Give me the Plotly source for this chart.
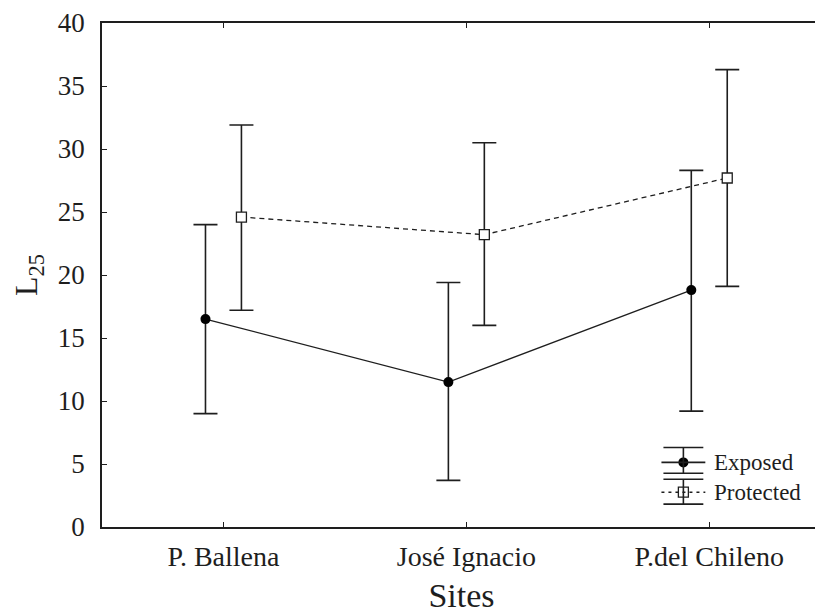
import plotly.graph_objects as go

sites = ["P. Ballena", "José Ignacio", "P.del Chileno"]
exposed_mean = [16.5, 11.5, 18.8]
exposed_upper = [24.0, 19.4, 28.3]
exposed_lower = [9.0, 3.7, 9.2]
protected_mean = [24.6, 23.2, 27.7]
protected_upper = [31.9, 30.5, 36.3]
protected_lower = [17.2, 16.0, 19.1]
y_ticks = [0, 5, 10, 15, 20, 25, 30, 35, 40]

pos = [i + 1 for i in range(len(sites))]
off = 0.074
ink = "#1e1e1e"
font = "Liberation Serif"

# page body has an 8px margin: figure is drawn from (8,8)
W, H = 815, 608
L, R, T, B = 94, 815, 12, 519

fig = go.Figure()
fig.add_trace(go.Scatter(
    x=[p - off for p in pos], y=exposed_mean, mode="lines+markers", name="Exposed",
    line=dict(color=ink, width=1.3),
    marker=dict(symbol="circle", size=10, color="black"),
    error_y=dict(type="data", symmetric=False,
                 array=[u - m for u, m in zip(exposed_upper, exposed_mean)],
                 arrayminus=[m - l for m, l in zip(exposed_mean, exposed_lower)],
                 color=ink, thickness=1.6, width=12),
    showlegend=False))
fig.add_trace(go.Scatter(
    x=[p + off for p in pos], y=protected_mean, mode="lines+markers", name="Protected",
    line=dict(color=ink, width=1.3, dash="5px,4px"),
    marker=dict(symbol="square", size=10, color="white", line=dict(color=ink, width=1.3)),
    error_y=dict(type="data", symmetric=False,
                 array=[u - m for u, m in zip(protected_upper, protected_mean)],
                 arrayminus=[m - l for m, l in zip(protected_mean, protected_lower)],
                 color=ink, thickness=1.6, width=12),
    showlegend=False))

# manual legend (error-bar style glyphs); positions given in screen pixels
def px(x): return (x - 8 - L) / (R - L)
def py(y): return (B - (y - 8)) / (B - T)

shapes = []
def hline(x0, x1, y, dash="solid"):
    shapes.append(dict(type="line", xref="paper", yref="paper", x0=px(x0), x1=px(x1),
                       y0=py(y), y1=py(y), line=dict(color=ink, width=1.6, dash=dash)))
def vline(x, y0, y1):
    shapes.append(dict(type="line", xref="paper", yref="paper", x0=px(x), x1=px(x),
                       y0=py(y0), y1=py(y1), line=dict(color=ink, width=1.6)))

hline(665, 705, 447)
hline(665, 705, 473)
vline(685, 447, 473)
hline(663, 707, 462)
hline(665, 705, 479)
hline(665, 705, 504)
vline(685, 479, 504)
hline(663, 707, 492, dash="3px,4px")
fig.add_trace(go.Scatter(x=[px(685)], y=[py(462)], xaxis="x2", yaxis="y2", mode="markers",
                         marker=dict(symbol="circle", size=10, color="black"),
                         showlegend=False, hoverinfo="skip"))
fig.add_trace(go.Scatter(x=[px(685)], y=[py(492)], xaxis="x2", yaxis="y2", mode="markers",
                         marker=dict(symbol="square", size=10, color="white", line=dict(color=ink, width=1.3)),
                         showlegend=False, hoverinfo="skip"))

annotations = [
    dict(text="Exposed", xref="paper", yref="paper", x=px(714), y=py(462), xanchor="left",
         yanchor="middle", showarrow=False, font=dict(family=font, size=23, color=ink)),
    dict(text="Protected", xref="paper", yref="paper", x=px(714), y=py(492), xanchor="left",
         yanchor="middle", showarrow=False, font=dict(family=font, size=23, color=ink)),
]

fig.update_layout(
    width=W, height=H,
    margin=dict(l=L, r=W - R, t=T, b=H - B),
    paper_bgcolor="white", plot_bgcolor="white",
    font=dict(family=font, color=ink),
    shapes=shapes, annotations=annotations,
    xaxis=dict(range=[0.5, 3.46], tickvals=pos, ticktext=sites, ticks="inside", ticklen=5,
               tickcolor=ink, tickwidth=1.3, showline=True, linecolor=ink, linewidth=1.6,
               mirror="ticks", showgrid=False, zeroline=False, tickfont=dict(size=28),
               ticklabelstandoff=4, ticklabeloverflow="allow",
               title=dict(text="Sites", font=dict(size=34), standoff=12)),
    yaxis=dict(range=[0, 40], tickvals=y_ticks, ticks="inside", ticklen=5,
               tickcolor=ink, tickwidth=1.3, showline=True, linecolor=ink, linewidth=1.6,
               mirror="ticks", showgrid=False, zeroline=False, tickfont=dict(size=27),
               ticklabelstandoff=10, ticklabeloverflow="allow",
               title=dict(text="L<sub>25</sub>", font=dict(size=32), standoff=12)),
    xaxis2=dict(range=[0, 1], overlaying="x", visible=False, fixedrange=True),
    yaxis2=dict(range=[0, 1], overlaying="y", visible=False, fixedrange=True),
)

fig.write_html("out.html")
